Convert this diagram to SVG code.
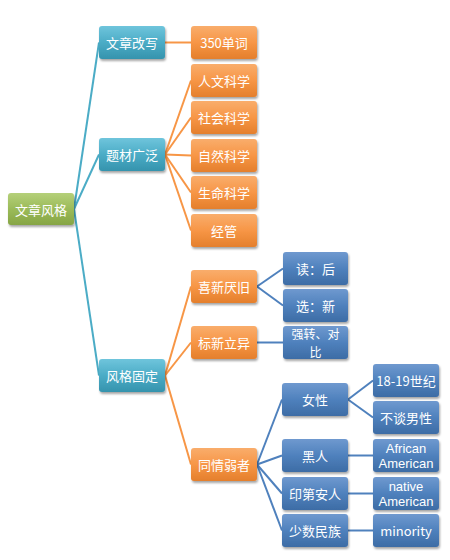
<svg xmlns="http://www.w3.org/2000/svg" width="450" height="560" viewBox="0 0 450 560">
<defs>
<linearGradient id="gG" x1="0" y1="0" x2="0" y2="1"><stop offset="0" stop-color="#b5d07a"/><stop offset="0.5" stop-color="#9bbb59"/><stop offset="1" stop-color="#86a545"/></linearGradient>
<linearGradient id="gC" x1="0" y1="0" x2="0" y2="1"><stop offset="0" stop-color="#6fc5dc"/><stop offset="0.5" stop-color="#4bacc6"/><stop offset="1" stop-color="#3593ad"/></linearGradient>
<linearGradient id="gO" x1="0" y1="0" x2="0" y2="1"><stop offset="0" stop-color="#f9ad6c"/><stop offset="0.5" stop-color="#f79646"/><stop offset="1" stop-color="#e47f2c"/></linearGradient>
<linearGradient id="gB" x1="0" y1="0" x2="0" y2="1"><stop offset="0" stop-color="#6f99cf"/><stop offset="0.5" stop-color="#4f81bd"/><stop offset="1" stop-color="#3d6ca5"/></linearGradient>
<filter id="sh" x="-10%" y="-10%" width="130%" height="140%"><feDropShadow dx="1" dy="2" stdDeviation="1.2" flood-color="#000" flood-opacity="0.35"/></filter>
</defs>
<style>
rect{filter:url(#sh)}
.g rect{fill:url(#gG)} .c rect{fill:url(#gC)} .o rect{fill:url(#gO)} .b rect{fill:url(#gB)}
text{fill:#fff;font-family:"Noto Sans CJK SC","Noto Sans",sans-serif;font-size:13px;text-anchor:middle;dominant-baseline:central}
text.lat{font-family:"Liberation Sans",Arial,sans-serif;font-size:13px}
text.sm{font-size:12px}
.lc{stroke:#4bacc6} .lo{stroke:#f79646} .lb{stroke:#4f81bd}
#connectors line{stroke-width:2}
</style>
<g id="connectors">
<line class="lc" x1="74" y1="209" x2="99" y2="42.5"/>
<line class="lc" x1="74" y1="209" x2="99" y2="154.5"/>
<line class="lc" x1="74" y1="209" x2="99" y2="375.5"/>
<line class="lo" x1="165" y1="42.5" x2="191" y2="42.5"/>
<line class="lo" x1="165" y1="154.5" x2="191" y2="80.5"/>
<line class="lo" x1="165" y1="154.5" x2="191" y2="117.5"/>
<line class="lo" x1="165" y1="154.5" x2="191" y2="155.5"/>
<line class="lo" x1="165" y1="154.5" x2="191" y2="192.5"/>
<line class="lo" x1="165" y1="154.5" x2="191" y2="230.5"/>
<line class="lo" x1="165" y1="375.5" x2="191" y2="286.5"/>
<line class="lo" x1="165" y1="375.5" x2="191" y2="342.5"/>
<line class="lo" x1="165" y1="375.5" x2="191" y2="464.5"/>
<line class="lb" x1="257" y1="286.5" x2="283" y2="268.5"/>
<line class="lb" x1="257" y1="286.5" x2="283" y2="305.5"/>
<line class="lb" x1="257" y1="342.5" x2="283" y2="342.5"/>
<line class="lb" x1="257" y1="464.5" x2="282" y2="399.5"/>
<line class="lb" x1="257" y1="464.5" x2="282" y2="455.5"/>
<line class="lb" x1="257" y1="464.5" x2="282" y2="493.5"/>
<line class="lb" x1="257" y1="464.5" x2="282" y2="530.5"/>
<line class="lb" x1="348" y1="399.5" x2="373" y2="380.5"/>
<line class="lb" x1="348" y1="399.5" x2="373" y2="417.5"/>
<line class="lb" x1="348" y1="455.5" x2="373" y2="455.5"/>
<line class="lb" x1="348" y1="493.5" x2="373" y2="493.5"/>
<line class="lb" x1="348" y1="530.5" x2="373" y2="530.5"/>
</g>
<g id="root" class="g"><rect x="8" y="193" width="66" height="32" rx="3"/><text x="41" y="209">文章风格</text></g>
<g id="n-gaixie" class="c"><rect x="99" y="26" width="66" height="33" rx="3"/><text x="132" y="42.5">文章改写</text></g>
<g id="n-ticai" class="c"><rect x="99" y="138" width="66" height="33" rx="3"/><text x="132" y="154.5">题材广泛</text></g>
<g id="n-fengge" class="c"><rect x="99" y="359" width="66" height="33" rx="3"/><text x="132" y="375.5">风格固定</text></g>
<g id="n-350" class="o"><rect x="191" y="26" width="66" height="33" rx="3"/><text x="224" y="42.5">350单词</text></g>
<g id="n-renwen" class="o"><rect x="191" y="64" width="66" height="33" rx="3"/><text x="224" y="80.5">人文科学</text></g>
<g id="n-shehui" class="o"><rect x="191" y="101" width="66" height="33" rx="3"/><text x="224" y="117.5">社会科学</text></g>
<g id="n-ziran" class="o"><rect x="191" y="139" width="66" height="33" rx="3"/><text x="224" y="155.5">自然科学</text></g>
<g id="n-shengming" class="o"><rect x="191" y="176" width="66" height="33" rx="3"/><text x="224" y="192.5">生命科学</text></g>
<g id="n-jingguan" class="o"><rect x="191" y="214" width="66" height="33" rx="3"/><text x="224" y="230.5">经管</text></g>
<g id="n-xixin" class="o"><rect x="191" y="270" width="66" height="33" rx="3"/><text x="224" y="286.5">喜新厌旧</text></g>
<g id="n-biaoxin" class="o"><rect x="191" y="326" width="66" height="33" rx="3"/><text x="224" y="342.5">标新立异</text></g>
<g id="n-tongqing" class="o"><rect x="191" y="448" width="66" height="33" rx="3"/><text x="224" y="464.5">同情弱者</text></g>
<g id="n-du" class="b"><rect x="283" y="252" width="65" height="33" rx="3"/><text x="315.5" y="268.5">读：后</text></g>
<g id="n-xuan" class="b"><rect x="283" y="289" width="65" height="33" rx="3"/><text x="315.5" y="305.5">选：新</text></g>
<g id="n-qiangzhuan" class="b"><rect x="283" y="326" width="65" height="33" rx="3"/><text class="sm" x="315.5" y="333.7">强转、对<tspan x="315.5" dy="17.6">比</tspan></text></g>
<g id="n-nvxing" class="b"><rect x="282" y="383" width="66" height="33" rx="3"/><text x="315" y="399.5">女性</text></g>
<g id="n-heiren" class="b"><rect x="282" y="439" width="66" height="33" rx="3"/><text x="315" y="455.5">黑人</text></g>
<g id="n-yindi" class="b"><rect x="282" y="477" width="66" height="33" rx="3"/><text x="315" y="493.5">印第安人</text></g>
<g id="n-shaoshu" class="b"><rect x="282" y="514" width="66" height="33" rx="3"/><text x="315" y="530.5">少数民族</text></g>
<g id="n-1819" class="b"><rect x="373" y="364" width="66" height="33" rx="3"/><text x="406" y="380.5">18-19世纪</text></g>
<g id="n-butan" class="b"><rect x="373" y="401" width="66" height="33" rx="3"/><text x="406" y="417.5">不谈男性</text></g>
<g id="n-african" class="b"><rect x="373" y="439" width="66" height="33" rx="3"/><text class="lat" x="406" y="448">African<tspan x="406" dy="15">American</tspan></text></g>
<g id="n-native" class="b"><rect x="373" y="477" width="66" height="33" rx="3"/><text class="lat" x="406" y="486">native<tspan x="406" dy="15">American</tspan></text></g>
<g id="n-minority" class="b"><rect x="373" y="514" width="66" height="33" rx="3"/><text x="406" y="530.5">minority</text></g>
</svg>
